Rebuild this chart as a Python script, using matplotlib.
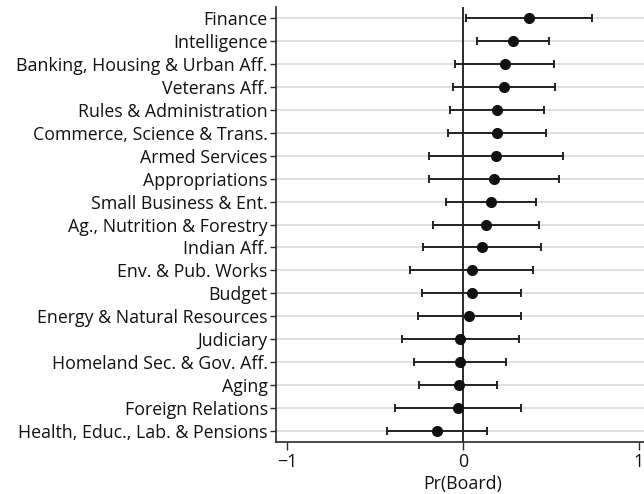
import matplotlib
matplotlib.use("Agg")
import matplotlib.pyplot as plt

plt.rcParams['font.family'] = ['Open Sans', 'DejaVu Sans']

committees = ["Finance", "Intelligence", "Banking, Housing & Urban Aff.", "Veterans Aff.",
              "Rules & Administration", "Commerce, Science & Trans.", "Armed Services",
              "Appropriations", "Small Business & Ent.", "Ag., Nutrition & Forestry",
              "Indian Aff.", "Env. & Pub. Works", "Budget", "Energy & Natural Resources",
              "Judiciary", "Homeland Sec. & Gov. Aff.", "Aging", "Foreign Relations",
              "Health, Educ., Lab. & Pensions"]
estimate = [0.375, 0.284, 0.237, 0.235, 0.193, 0.191, 0.188, 0.176, 0.159, 0.133,
            0.106, 0.049, 0.049, 0.036, -0.017, -0.019, -0.025, -0.027, -0.148]
ci_low = [0.015, 0.081, -0.044, -0.055, -0.074, -0.083, -0.195, -0.193, -0.095, -0.169,
          -0.225, -0.299, -0.233, -0.258, -0.347, -0.280, -0.248, -0.386, -0.430]
ci_high = [0.733, 0.487, 0.517, 0.525, 0.462, 0.470, 0.570, 0.545, 0.415, 0.432,
           0.445, 0.398, 0.330, 0.330, 0.318, 0.246, 0.193, 0.330, 0.136]
xticks = [-1, 0, 1]
xtick_labels = ["\u22121", "0", "1"]

W, H = 644, 494
fig = plt.figure(figsize=(W / 100, H / 100), dpi=100)
left, right, top, bottom = 276, 650, 7, 442
ax = fig.add_axes([left / W, 1 - bottom / H, (right - left) / W, (bottom - top) / H])

n = len(committees)
ypos = list(range(n - 1, -1, -1))
col = "#111111"
fs = 12.8

for y in ypos:
    ax.axhline(y, color="#e0e0e0", lw=1.4, zorder=0)
ax.axvline(0, color="#2a2a2a", lw=1.4, zorder=1)

xerr = [[e - l for e, l in zip(estimate, ci_low)], [h - e for e, h in zip(estimate, ci_high)]]
ax.errorbar(estimate, ypos, xerr=xerr, fmt="o", color=col, ecolor="#222222",
            elinewidth=1.4, capsize=3.2, capthick=1.4, markersize=7, zorder=3)

ax.set_xlim(-1.064, 1.064)
ax.set_ylim(-0.5, n - 0.5)
ax.set_yticks(ypos)
ax.set_yticklabels(committees, fontsize=fs, color="#111111")
ax.set_xticks(xticks)
ax.set_xticklabels(xtick_labels, fontsize=fs, color="#111111")
ax.set_xlabel("Pr(Board)", fontsize=fs, color="#111111", labelpad=2.5)

for s in ["top", "right"]:
    ax.spines[s].set_visible(False)
for s in ["left", "bottom"]:
    ax.spines[s].set_color("#2a2a2a")
    ax.spines[s].set_linewidth(1.2)
ax.tick_params(axis="y", direction="out", color="#2a2a2a", width=1.0, length=4, pad=2)
ax.tick_params(axis="x", direction="out", color="#2a2a2a", width=1.0, length=6, pad=2)

fig.savefig("out.png", dpi=100)
